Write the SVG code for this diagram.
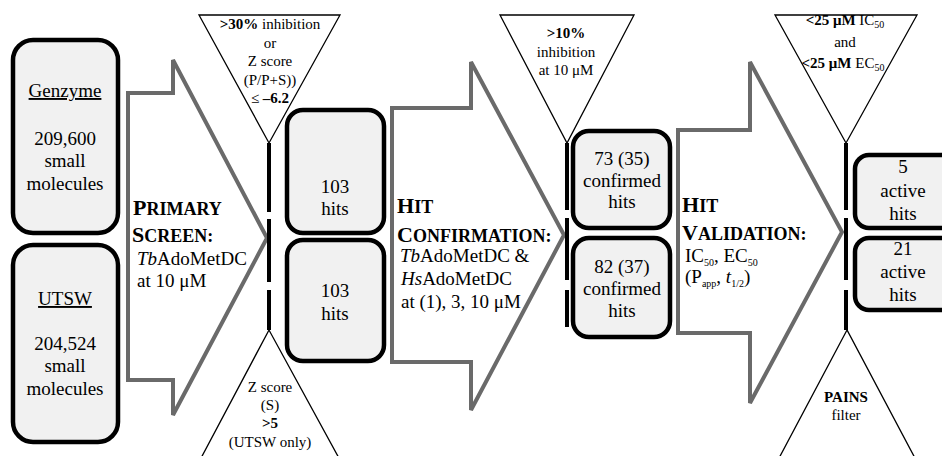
<svg xmlns="http://www.w3.org/2000/svg" width="942" height="456" viewBox="0 0 942 456">
<style>
text{font-family:"Liberation Serif","Times New Roman",serif;fill:#000}
.box{fill:#f1f1f1;stroke:#000;stroke-width:4.5}
.arr{fill:#fff;stroke:#6a6a6a;stroke-width:4;stroke-linejoin:miter}
.tri{fill:#fff;stroke:#000;stroke-width:1.3}
.t19{font-size:19px}
.t15{font-size:15px}
.c{text-anchor:middle}
.b{font-weight:bold}
.sc{font-weight:bold;font-size:22px}
.sm{font-size:18px}
.sub{font-size:10px}
.bar{fill:#000}
</style>
<rect width="942" height="456" fill="#fff"/>

<g id="stage-primary-screen">
<polygon class="arr" points="128,93 173,93 173,60 267,238 173,415 173,380 128,380"/>
<text class="sc" x="133" y="215">P<tspan class="sm">RIMARY</tspan></text>
<text class="sc" x="132" y="242">S<tspan class="sm">CREEN:</tspan></text>
<text class="t19" x="137" y="265"><tspan font-style="italic">Tb</tspan>AdoMetDC</text>
<text class="t19" x="137" y="287">at 10 μM</text>
</g>

<g id="stage-hit-confirmation">
<polygon class="arr" points="392,108 471,108 471,62 564,235 471,410 471,362 392,362"/>
<text class="sc" x="397" y="213">H<tspan class="sm">IT</tspan></text>
<text class="sc" x="397" y="242">C<tspan class="sm">ONFIRMATION:</tspan></text>
<text class="t19" x="400" y="262"><tspan font-style="italic">Tb</tspan>AdoMetDC &amp;</text>
<text class="t19" x="401" y="285"><tspan font-style="italic">Hs</tspan>AdoMetDC</text>
<text class="t19" x="401" y="308">at (1), 3, 10 μM</text>
</g>

<g id="stage-hit-validation">
<polygon class="arr" points="678,130 750,130 750,62 842,232 750,403 750,333 678,333"/>
<text class="sc" x="682" y="212">H<tspan class="sm">IT</tspan></text>
<text class="sc" x="682" y="240">V<tspan class="sm">ALIDATION:</tspan></text>
<text class="t19" x="685" y="262">IC<tspan class="sub" dy="4">50</tspan><tspan dy="-4">, EC</tspan><tspan class="sub" dy="4">50</tspan></text>
<text class="t19" x="685" y="283">(P<tspan class="sub" dy="4">app</tspan><tspan dy="-4">, </tspan><tspan font-style="italic">t</tspan><tspan class="sub" dy="4">1/2</tspan><tspan dy="-4">)</tspan></text>
</g>

<g id="library-genzyme">
<rect class="box" x="13" y="40" width="105" height="193" rx="20"/>
<text class="t19 c" x="65" y="97" text-decoration="underline">Genzyme</text>
<text class="t19 c" x="65" y="145">209,600</text>
<text class="t19 c" x="65" y="167">small</text>
<text class="t19 c" x="65" y="190">molecules</text>
</g>

<g id="library-utsw">
<rect class="box" x="13" y="245" width="105" height="197" rx="20"/>
<text class="t19 c" x="65" y="305" text-decoration="underline">UTSW</text>
<text class="t19 c" x="65" y="350">204,524</text>
<text class="t19 c" x="65" y="372">small</text>
<text class="t19 c" x="65" y="395">molecules</text>
</g>

<g id="filter-primary-top">
<polygon class="tri" points="199,15 340,15 269,143"/>
<text class="t15 c" x="270" y="29"><tspan class="b">&gt;30%</tspan> inhibition</text>
<text class="t15 c" x="270" y="47.5">or</text>
<text class="t15 c" x="270" y="66">Z score</text>
<text class="t15 c" x="270" y="84.5">(P/P+S))</text>
<text class="t15 c" x="270" y="103">≤ <tspan class="b">–6.2</tspan></text>
</g>

<g id="filter-primary-bottom">
<polygon class="tri" points="269,330 200,460 340,460"/>
<text class="t15 c" x="270" y="392">Z score</text>
<text class="t15 c" x="270" y="410">(S)</text>
<text class="t15 c b" x="270" y="428">&gt;5</text>
<text class="t15 c" x="270" y="447">(UTSW only)</text>
</g>

<g id="filter-confirmation-top">
<polygon class="tri" points="500,15 634,15 567,143"/>
<text class="t15 c b" x="566" y="38">&gt;10%</text>
<text class="t15 c" x="566" y="57">inhibition</text>
<text class="t15 c" x="566" y="75">at 10 μM</text>
</g>

<g id="filter-validation-top">
<polygon class="tri" points="775,15 917,15 846,143"/>
<text class="t15 c" x="845" y="25"><tspan class="b">&lt;25 μM</tspan> IC<tspan class="sub" dy="3">50</tspan></text>
<text class="t15 c" x="845" y="46.5">and</text>
<text class="t15 c" x="843" y="68"><tspan class="b">&lt;25 μM</tspan> EC<tspan class="sub" dy="3">50</tspan></text>
</g>

<g id="filter-validation-bottom">
<polygon class="tri" points="847,330 778,460 916,460"/>
<text class="t15 c b" x="846" y="402">PAINS</text>
<text class="t15 c" x="846" y="420">filter</text>
</g>

<g id="hits-primary-genzyme">
<rect class="box" x="287" y="110" width="97" height="123" rx="16"/>
<text class="t19 c" x="335" y="193">103</text>
<text class="t19 c" x="335" y="215">hits</text>
</g>
<g id="hits-primary-utsw">
<rect class="box" x="287" y="240" width="97" height="121" rx="16"/>
<text class="t19 c" x="335" y="297">103</text>
<text class="t19 c" x="335" y="320">hits</text>
</g>

<g id="hits-confirmed-genzyme">
<rect class="box" x="573" y="131" width="97" height="97" rx="16"/>
<text class="t19 c" x="622" y="165">73 (35)</text>
<text class="t19 c" x="622" y="187">confirmed</text>
<text class="t19 c" x="622" y="208">hits</text>
</g>
<g id="hits-confirmed-utsw">
<rect class="box" x="573" y="238" width="97" height="99" rx="16"/>
<text class="t19 c" x="622" y="273">82 (37)</text>
<text class="t19 c" x="622" y="295">confirmed</text>
<text class="t19 c" x="622" y="317">hits</text>
</g>

<g id="hits-active-genzyme">
<rect class="box" x="855" y="155" width="105" height="73" rx="14"/>
<text class="t19 c" x="903" y="173">5</text>
<text class="t19 c" x="903" y="197">active</text>
<text class="t19 c" x="903" y="220">hits</text>
</g>
<g id="hits-active-utsw">
<rect class="box" x="855" y="238" width="105" height="72" rx="14"/>
<text class="t19 c" x="903" y="255">21</text>
<text class="t19 c" x="903" y="278">active</text>
<text class="t19 c" x="903" y="301">hits</text>
</g>

<g id="connectors">
<rect class="bar" x="267" y="143" width="4" height="69"/>
<rect class="bar" x="267" y="219" width="4" height="63"/>
<rect class="bar" x="267" y="290" width="4" height="40"/>
<rect class="bar" x="565" y="143" width="4" height="67"/>
<rect class="bar" x="565" y="218" width="4" height="62"/>
<rect class="bar" x="565" y="290" width="4" height="37"/>
<rect class="bar" x="844" y="143" width="4" height="67"/>
<rect class="bar" x="844" y="218" width="4" height="62"/>
<rect class="bar" x="844" y="290" width="4" height="40"/>
</g>
</svg>
